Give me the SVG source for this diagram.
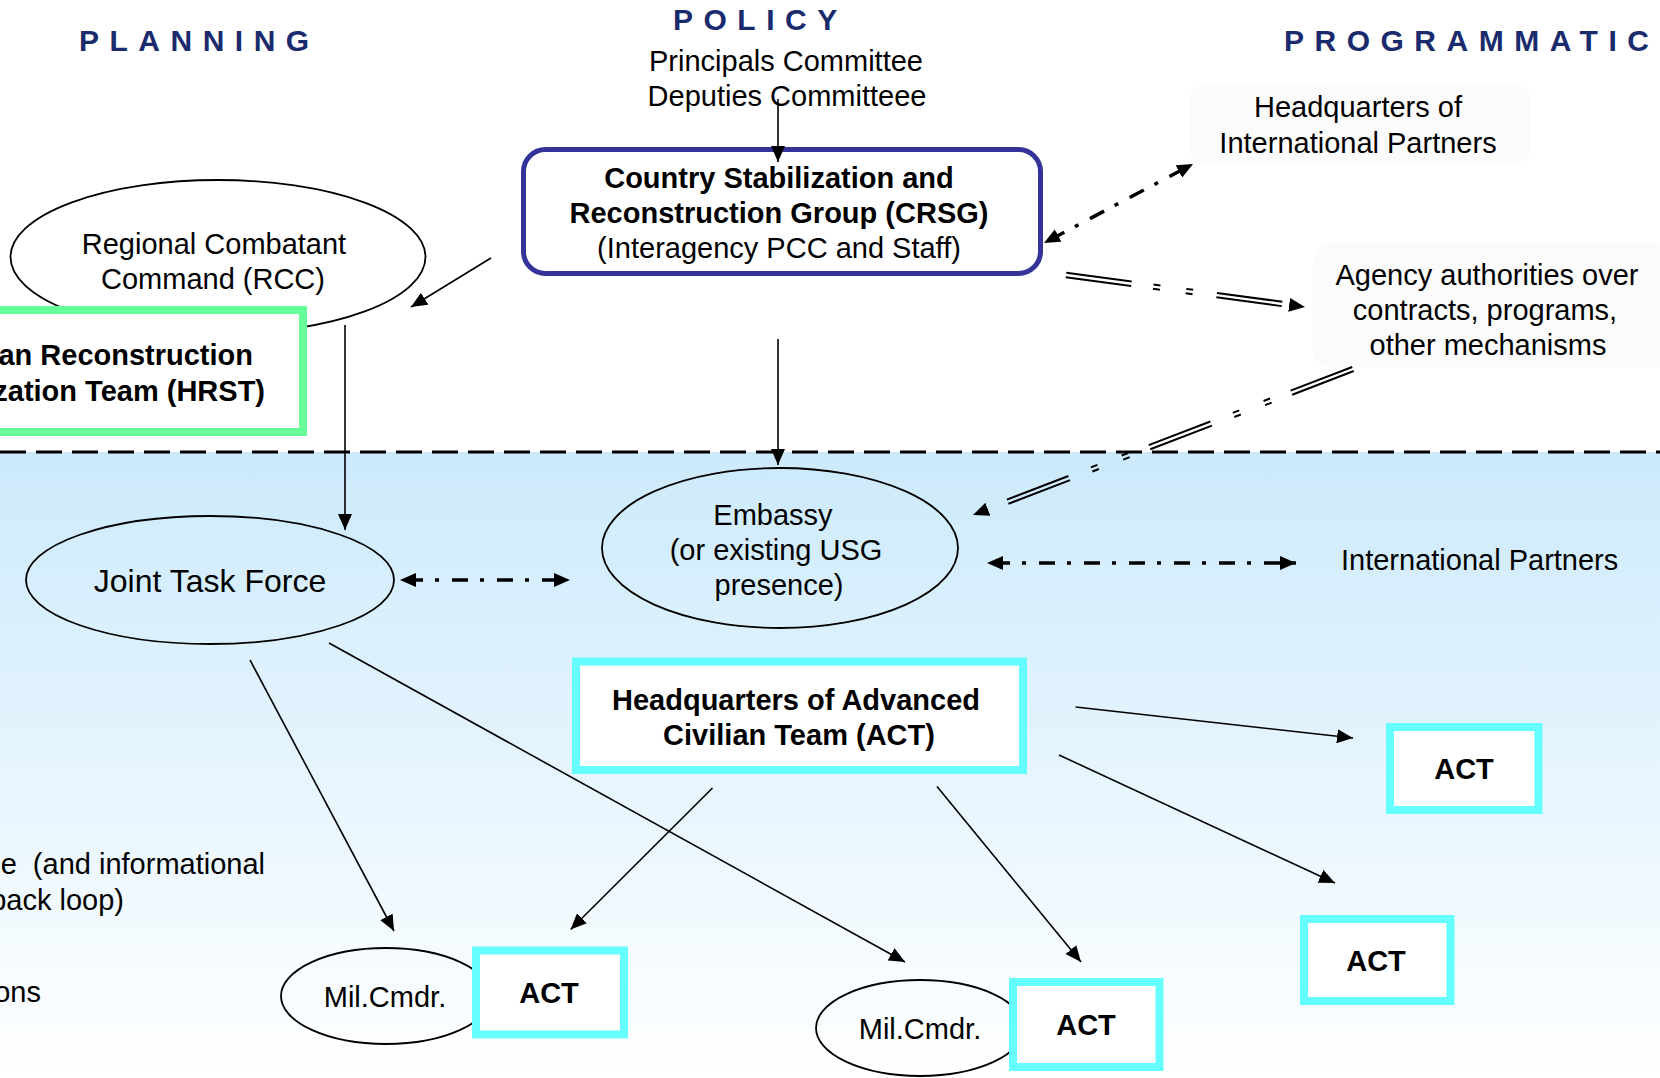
<svg xmlns="http://www.w3.org/2000/svg" width="1660" height="1078" viewBox="0 0 1660 1078">
<defs>
<linearGradient id="bg" x1="0" y1="452" x2="0" y2="1078" gradientUnits="userSpaceOnUse">
<stop offset="0" stop-color="#CCEAFC"/>
<stop offset="1" stop-color="#FFFFFF"/>
</linearGradient>
<marker id="ah" markerUnits="userSpaceOnUse" markerWidth="16" markerHeight="14" refX="16" refY="7" orient="auto-start-reverse" viewBox="0 0 16 14"><path d="M0,0 L16,7 L0,14 z" fill="#000"/></marker>
<style>
text { font-family: "Liberation Sans", Arial, Helvetica, sans-serif; font-size: 29px; fill: #000; }
.t { text-anchor: middle; }
.e { text-anchor: end; white-space: pre; }
.b { font-weight: bold; }
.title { font-weight: bold; font-size: 30px; fill: #1a2b6d; letter-spacing: 10.5px; }
.ell { stroke: #000; stroke-width: 1.8; }
.act { fill: #fff; stroke: #66ffff; stroke-width: 8; }
.faint { fill: #fbfbfb; }
.thin { stroke: #000; stroke-width: 1.6; fill: none; marker-end: url(#ah); }
.dd { stroke: #000; stroke-width: 3.5; fill: none; stroke-dasharray: 16 12 4 13; stroke-dashoffset: 38; marker-start: url(#ah); marker-end: url(#ah); }
.dbl { stroke: #000; stroke-width: 2; fill: none; stroke-dasharray: 66 22 7 26 7 24; }
.tipOnly { stroke: none; fill: none; marker-end: url(#ah); }
</style>
</defs>

<rect x="0" y="0" width="1660" height="1078" fill="#fff"/>
<rect x="0" y="452" width="1660" height="626" fill="url(#bg)"/>
<line x1="0" y1="452" x2="1660" y2="452" stroke="#000" stroke-width="3" stroke-dasharray="26 10"/>

<g id="titles">
<text class="title" x="79" y="51">PLANNING</text>
<text class="title" x="673" y="30">POLICY</text>
<text class="title" x="1284" y="51">PROGRAMMATIC</text>
</g>

<g id="policy-committees">
<text class="t" x="786" y="71">Principals Committee</text>
<text class="t" x="787" y="106">Deputies Committeee</text>
</g>

<g id="hq-international-partners">
<rect class="faint" x="1190" y="84" width="340" height="80" rx="16"/>
<text class="t" x="1358" y="117">Headquarters of</text>
<text class="t" x="1358" y="153">International Partners</text>
</g>

<g id="agency-authorities">
<rect class="faint" x="1313" y="243" width="360" height="125" rx="18"/>
<text class="t" x="1487" y="285">Agency authorities over</text>
<text class="t" x="1485" y="320">contracts, programs,</text>
<text class="t" x="1488" y="355">other mechanisms</text>
</g>

<g id="crsg">
<rect x="523.5" y="149.5" width="517" height="124" rx="22" fill="#fff" stroke="#333399" stroke-width="5"/>
<text class="t b" x="779" y="188">Country Stabilization and</text>
<text class="t b" x="779" y="223">Reconstruction Group (CRSG)</text>
<text class="t" x="779" y="258">(Interagency PCC and Staff)</text>
</g>

<g id="rcc">
<ellipse class="ell" cx="218" cy="257" rx="207.5" ry="77" fill="#fff"/>
<text class="t" x="214" y="254">Regional Combatant</text>
<text class="t" x="213" y="289">Command (RCC)</text>
</g>

<g id="hrst">
<rect x="-10" y="310" width="313" height="122" fill="#fff" stroke="#66ff99" stroke-width="8"/>
<text class="e b" x="253" y="365">an Reconstruction</text>
<text class="e b" x="265" y="401">zation Team (HRST)</text>
</g>

<g id="jtf">
<ellipse class="ell" cx="210" cy="580" rx="184" ry="64" fill="none"/>
<text class="t" x="210" y="592" style="font-size:32px">Joint Task Force</text>
</g>

<g id="embassy">
<ellipse class="ell" cx="780" cy="548" rx="178" ry="80" fill="none"/>
<text class="t" x="773" y="525">Embassy</text>
<text class="t" x="776" y="560">(or existing USG</text>
<text class="t" x="779" y="595">presence)</text>
</g>

<g id="international-partners">
<text x="1341" y="570">International Partners</text>
</g>

<g id="hq-act">
<rect class="act" x="576" y="661.5" width="447" height="108.5"/>
<text class="t b" x="796" y="710">Headquarters of Advanced</text>
<text class="t b" x="799" y="745">Civilian Team (ACT)</text>
</g>

<g id="act-1">
<rect class="act" x="1390" y="727" width="148.5" height="83"/>
<text class="t b" x="1464" y="779">ACT</text>
</g>

<g id="act-2">
<rect class="act" x="1304" y="919" width="146.5" height="82"/>
<text class="t b" x="1376" y="971">ACT</text>
</g>

<g id="milcmdr-1">
<ellipse class="ell" cx="386" cy="996" rx="105" ry="48" fill="none"/>
<text class="t" x="385" y="1007">Mil.Cmdr.</text>
</g>

<g id="act-3">
<rect class="act" x="476" y="950.5" width="148" height="84"/>
<text class="t b" x="549" y="1003">ACT</text>
</g>

<g id="milcmdr-2">
<ellipse class="ell" cx="920" cy="1028" rx="104" ry="48" fill="none"/>
<text class="t" x="920" y="1039">Mil.Cmdr.</text>
</g>

<g id="act-4">
<rect class="act" x="1013" y="982" width="146.5" height="85"/>
<text class="t b" x="1086" y="1035">ACT</text>
</g>

<g id="legend-fragments">
<text class="e" x="265" y="874">e  (and informational</text>
<text class="e" x="124" y="910">back loop)</text>
<text class="e" x="41" y="1002">ons</text>
</g>

<g id="connectors">
<line class="thin" x1="778" y1="99" x2="778" y2="162"/>
<line class="thin" x1="778" y1="339" x2="778" y2="465"/>
<line class="thin" x1="491" y1="258" x2="411" y2="307"/>
<line class="thin" x1="345" y1="325" x2="345" y2="530"/>
<line class="thin" x1="250" y1="660" x2="394" y2="931"/>
<line class="thin" x1="329" y1="643" x2="905" y2="962"/>
<line class="thin" x1="712.5" y1="788" x2="570.6" y2="929.5"/>
<line class="thin" x1="937" y1="786.6" x2="1081" y2="962"/>
<line class="thin" x1="1075.6" y1="707" x2="1353" y2="738"/>
<line class="thin" x1="1059" y1="755" x2="1335" y2="883"/>
<line class="dd" x1="400" y1="580" x2="570" y2="580"/>
<line class="dd" x1="987" y1="563" x2="1296" y2="563"/>
<line class="dd" x1="1044" y1="243" x2="1193" y2="164"/>
<line class="dbl" x1="1065.71" y1="277.18" x2="1289.71" y2="307.18"/>
<line class="dbl" x1="1066.29" y1="272.82" x2="1290.29" y2="302.82"/>
<path class="tipOnly" d="M1290,305 L1305,307"/>
<line class="dbl" x1="1352.21" y1="366.95" x2="986.3" y2="507.55"/>
<line class="dbl" x1="1353.79" y1="371.05" x2="987.9" y2="511.65"/>
<path class="tipOnly" d="M987.1,509.6 L973,515"/>
</g>
</svg>
